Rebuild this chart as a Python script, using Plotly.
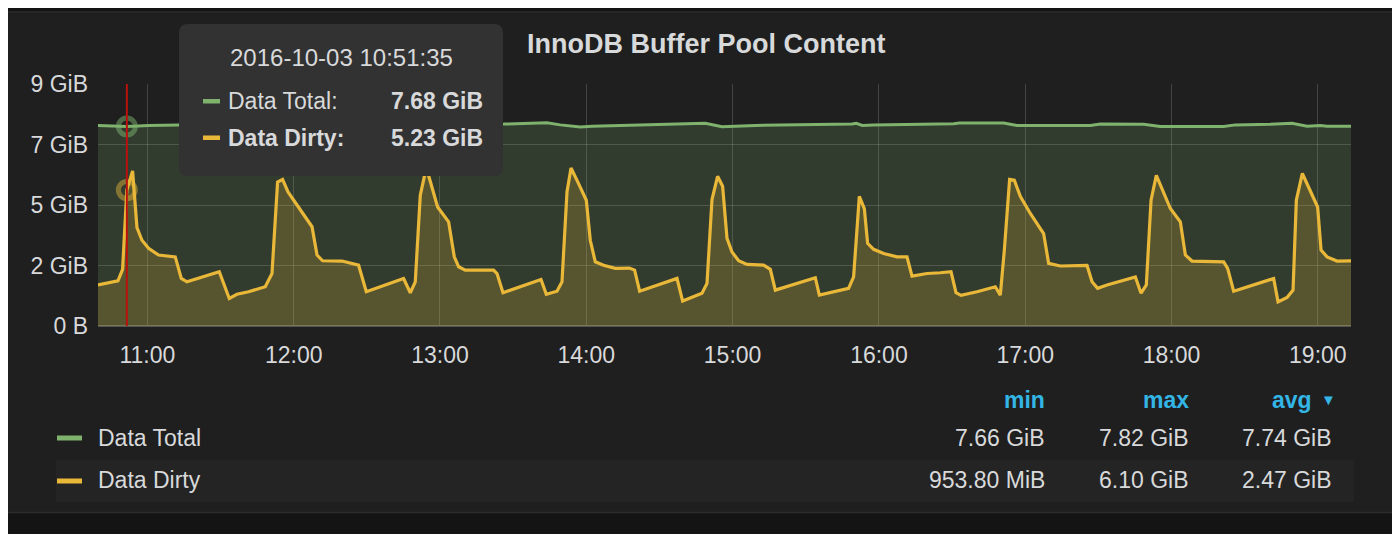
import plotly.graph_objects as go

DATE = "2016-10-03 "

# ---------------- data (GiB) ----------------
dirty_times = [
    "10:39:44", "10:47:56", "10:49:50", "10:51:35", "10:53:56", "10:55:44", "10:57:47", "11:00:30", "11:04:35", "11:11:26",
    "11:13:54", "11:16:14", "11:29:29", "11:33:35", "11:36:45", "11:41:30", "11:48:21", "11:51:06", "11:53:24", "11:55:27",
    "11:57:40", "12:07:31", "12:09:34", "12:11:51", "12:19:49", "12:26:37", "12:29:47", "12:45:04", "12:47:49", "12:49:52",
    "12:51:55", "12:54:23", "12:59:01", "13:03:32", "13:05:52", "13:07:38", "13:10:23", "13:21:59", "13:23:23", "13:25:50",
    "13:41:25", "13:43:36", "13:47:59", "13:50:02", "13:52:05", "13:53:44", "13:56:50", "14:00:00", "14:01:38", "14:03:41",
    "14:07:05", "14:11:53", "14:17:38", "14:19:49", "14:21:52", "14:37:12", "14:39:30", "14:47:27", "14:49:30", "14:51:33",
    "14:53:51", "14:55:54", "14:57:42", "14:59:45", "15:02:28", "15:05:55", "15:12:43", "15:15:28", "15:17:31", "15:33:55",
    "15:35:34", "15:47:34", "15:49:37", "15:51:58", "15:54:01", "15:55:22", "15:57:50", "16:01:56", "16:07:25", "16:11:31",
    "16:13:34", "16:19:44", "16:25:11", "16:29:34", "16:31:37", "16:33:40", "16:40:14", "16:47:44", "16:49:47", "16:51:26",
    "16:53:36", "16:55:32", "16:57:59", "17:02:05", "17:07:33", "17:09:36", "17:14:24", "17:25:21", "17:27:24", "17:29:42",
    "17:33:33", "17:45:10", "17:47:30", "17:49:40", "17:51:36", "17:53:46", "17:59:31", "18:03:37", "18:05:40", "18:08:25",
    "18:21:23", "18:23:01", "18:25:29", "18:33:41", "18:41:53", "18:43:41", "18:47:23", "18:49:50", "18:51:11", "18:53:39",
    "18:59:55", "19:01:19", "19:03:47", "19:07:53", "19:13:37",
]
dirty_values = [
    1.58, 1.74, 2.18, 5.23, 5.97, 3.79, 3.30, 2.99, 2.73, 2.66,
    1.83, 1.70, 2.09, 1.06, 1.22, 1.32, 1.51, 2.02, 5.54, 5.64,
    5.16, 3.82, 2.73, 2.51, 2.50, 2.34, 1.32, 1.83, 1.28, 1.70,
    5.03, 6.10, 4.58, 4.01, 2.66, 2.28, 2.15, 2.15, 2.02, 1.28,
    1.79, 1.22, 1.34, 1.70, 5.16, 6.08, 5.48, 4.84, 3.30, 2.47,
    2.34, 2.22, 2.23, 2.15, 1.34, 1.83, 0.96, 1.26, 1.64, 4.87,
    5.76, 5.38, 3.37, 2.85, 2.51, 2.37, 2.34, 2.18, 1.38, 1.86,
    1.19, 1.45, 1.89, 4.99, 4.52, 3.18, 2.95, 2.79, 2.66, 2.66,
    1.92, 2.02, 2.05, 2.09, 1.28, 1.18, 1.32, 1.51, 1.19, 2.92,
    5.64, 5.61, 4.99, 4.33, 3.56, 2.41, 2.31, 2.33, 1.70, 1.45,
    1.58, 1.89, 1.26, 1.58, 4.84, 5.80, 4.52, 4.01, 2.73, 2.50,
    2.47, 2.22, 1.34, 1.58, 1.83, 0.93, 1.10, 1.38, 4.84, 5.87,
    4.58, 2.92, 2.66, 2.50, 2.51,
]

total_times = [
    "10:39:44", "10:51:35", "10:56:23", "11:00:30", "11:12:48", "12:02:43", "12:51:55", "13:26:05", "13:42:29", "13:43:53",
    "13:49:20", "13:57:32", "14:02:23", "14:21:14", "14:39:15", "14:48:48", "14:55:39", "15:09:19", "15:48:58", "15:50:44",
    "15:53:11", "15:57:42", "16:30:43", "16:32:59", "16:51:09", "16:56:38", "17:26:42", "17:30:48", "17:48:34", "17:55:25",
    "18:21:22", "18:26:10", "18:40:31", "18:49:25", "18:55:34", "19:01:02", "19:03:47", "19:13:37",
]
total_values = [
    7.72, 7.68, 7.70, 7.72, 7.74, 7.74, 7.75, 7.77, 7.79, 7.82,
    7.74, 7.66, 7.69, 7.74, 7.77, 7.80, 7.67, 7.72, 7.77, 7.80,
    7.72, 7.74, 7.78, 7.81, 7.81, 7.72, 7.72, 7.77, 7.76, 7.68,
    7.68, 7.74, 7.76, 7.80, 7.69, 7.72, 7.69, 7.69,
]

series_names = ["Data Total", "Data Dirty"]
stat_headers = ["min", "max", "avg"]
stats_total = ["7.66 GiB", "7.82 GiB", "7.74 GiB"]
stats_dirty = ["953.80 MiB", "6.10 GiB", "2.47 GiB"]

hover_time = "10:51:35"
hover_total = "7.68 GiB"
hover_dirty = "5.23 GiB"

ytick_bytes = [0, 2.5e9, 5e9, 7.5e9, 1e10]
ytick_labels = ["0 B", "2 GiB", "5 GiB", "7 GiB", "9 GiB"]

x_start, x_end = "10:39:45", "19:13:36"

# ---------------- styling ----------------
GREEN = "#7eb26d"
YELLOW = "#eab839"
TEXT = "#d8d9da"
BLUE = "#33b5e5"
FONT = "Liberation Sans, Arial, sans-serif"

OFF = 8  # page body margin
W, H = 1400 - OFF, 534 - OFF
L, R, T, B = 98, 1351, 84, 326  # plot area in page pixels


def px(x):
    return (x - L) / (R - L)


def py(y):
    return (B - y) / (B - T)


GIB = 1024 ** 3
ymax = 1e10 / GIB

fig = go.Figure()

fig.add_trace(go.Scatter(
    x=[DATE + t for t in total_times], y=total_values, mode="lines", name=series_names[0],
    line=dict(color=GREEN, width=3), fill="tozeroy", fillcolor="rgba(126,178,109,0.2)",
    hoverinfo="skip"))
fig.add_trace(go.Scatter(
    x=[DATE + t for t in dirty_times], y=dirty_values, mode="lines", name=series_names[1],
    line=dict(color=YELLOW, width=3.2), fill="tozeroy", fillcolor="rgba(234,184,57,0.2)",
    hoverinfo="skip"))

# hover point markers
hv_total = total_values[total_times.index(hover_time)]
hv_dirty = dirty_values[dirty_times.index(hover_time)]
fig.add_trace(go.Scatter(
    x=[DATE + hover_time], y=[hv_total], mode="markers",
    marker=dict(symbol="circle-open", size=17, color="rgba(126,178,109,0.5)", line=dict(width=5)),
    hoverinfo="skip"))
fig.add_trace(go.Scatter(
    x=[DATE + hover_time], y=[hv_dirty], mode="markers",
    marker=dict(symbol="circle-open", size=17, color="rgba(234,184,57,0.45)", line=dict(width=5)),
    hoverinfo="skip"))

shapes = []
# panel
shapes.append(dict(type="rect", xref="paper", yref="paper", layer="below",
                   x0=px(6), x1=px(1410), y0=py(12), y1=py(512.5),
                   fillcolor="#1f1f20", line=dict(color="#2b2b2b", width=1.5)))
# legend row band
shapes.append(dict(type="rect", xref="paper", yref="paper", layer="below",
                   x0=px(56), x1=px(1354), y0=py(460), y1=py(502),
                   fillcolor="#242425", line=dict(width=0)))
# legend swatches
shapes.append(dict(type="rect", xref="paper", yref="paper", layer="above",
                   x0=px(57), x1=px(82), y0=py(435.5), y1=py(440.5),
                   fillcolor=GREEN, line=dict(width=0)))
shapes.append(dict(type="rect", xref="paper", yref="paper", layer="above",
                   x0=px(57), x1=px(82), y0=py(478.5), y1=py(483.5),
                   fillcolor=YELLOW, line=dict(width=0)))
# red annotation line
shapes.append(dict(type="line", xref="x", yref="paper", layer="above",
                   x0=DATE + hover_time, x1=DATE + hover_time, y0=0, y1=1,
                   line=dict(color="#b8120c", width=2)))


def rrect(x0, y0, x1, y1, r):
    def P(x, y):
        return f"{px(x):.6f},{py(y):.6f}"
    return (f"M {P(x0 + r, y0)} L {P(x1 - r, y0)} Q {P(x1, y0)} {P(x1, y0 + r)} "
            f"L {P(x1, y1 - r)} Q {P(x1, y1)} {P(x1 - r, y1)} L {P(x0 + r, y1)} "
            f"Q {P(x0, y1)} {P(x0, y1 - r)} L {P(x0, y0 + r)} Q {P(x0, y0)} {P(x0 + r, y0)} Z")


# tooltip box
shapes.append(dict(type="path", xref="paper", yref="paper", layer="above",
                   path=rrect(179, 24, 503, 176, 9), fillcolor="#323233", line=dict(width=0)))
shapes.append(dict(type="rect", xref="paper", yref="paper", layer="above",
                   x0=px(203), x1=px(220), y0=py(99), y1=py(103.5),
                   fillcolor=GREEN, line=dict(width=0)))
shapes.append(dict(type="rect", xref="paper", yref="paper", layer="above",
                   x0=px(203), x1=px(220), y0=py(135.5), y1=py(140),
                   fillcolor=YELLOW, line=dict(width=0)))

ann = []


def text(x, y, s, size=23, color=TEXT, anchor="left", bold=False):
    ann.append(dict(xref="paper", yref="paper", x=px(x), y=py(y), text=f"<b>{s}</b>" if bold else s,
                    showarrow=False, xanchor=anchor, yanchor="middle",
                    font=dict(family=FONT, size=size, color=color)))


text(706, 44, "InnoDB Buffer Pool Content", size=27, anchor="center", bold=True)
# tooltip
text(341, 57, DATE + hover_time, size=24, anchor="center")
text(226, 101, series_names[0] + ":", size=23)
text(485, 101, hover_total, size=23, anchor="right", bold=True)
text(226, 138, series_names[1] + ":", size=23, bold=True)
text(485, 138, hover_dirty, size=23, anchor="right", bold=True)

# legend table
cols = [1047, 1191, 1314]
for c, h in zip(cols, stat_headers):
    text(c, 400, h, size=23, color=BLUE, anchor="right", bold=True)
text(1319, 399, "▼", size=15, color=BLUE, anchor="left")
vcols = [1047, 1191, 1334]
text(96, 438, series_names[0], size=23)
text(96, 480, series_names[1], size=23)
for c, v in zip(vcols, stats_total):
    text(c, 438, v, size=23, anchor="right")
for c, v in zip(vcols, stats_dirty):
    text(c, 480, v, size=23, anchor="right")

fig.update_layout(
    width=W, height=H,
    margin=dict(l=L - OFF, r=1400 - R, t=T - OFF, b=534 - B, pad=0),
    paper_bgcolor="#141414", plot_bgcolor="rgba(0,0,0,0)",
    showlegend=False, shapes=shapes, annotations=ann,
    font=dict(family=FONT, color=TEXT, size=23),
    hovermode=False,
)
fig.update_xaxes(
    type="date", range=[DATE + x_start, DATE + x_end],
    tick0=DATE + "11:00:00", dtick=3600000, tickformat="%H:%M",
    showgrid=True, gridcolor="rgba(200,200,200,0.22)", gridwidth=1,
    zeroline=False, showline=False, ticks="", ticklabelstandoff=13,
    tickfont=dict(family=FONT, size=23, color=TEXT),
)
fig.update_yaxes(
    range=[0, ymax * 1.00001],
    tickvals=[b / GIB for b in ytick_bytes], ticktext=ytick_labels,
    showgrid=True, gridcolor="rgba(200,200,200,0.22)", gridwidth=1,
    zeroline=True, zerolinecolor="#555555", zerolinewidth=2,
    showline=False, ticks="", ticklabelstandoff=9,
    tickfont=dict(family=FONT, size=23, color=TEXT),
)

fig.write_html("out.html", config={"displayModeBar": False, "staticPlot": True})
